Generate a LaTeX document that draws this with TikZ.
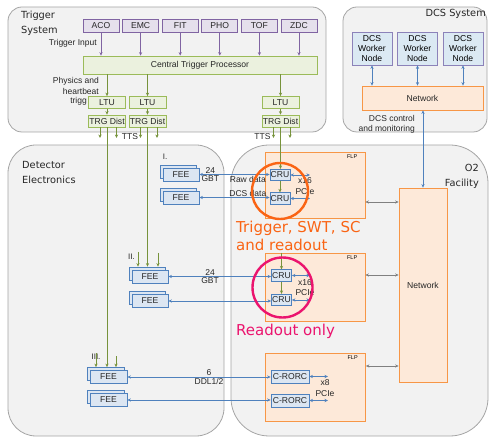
\documentclass[tikz,border=0pt]{standalone}
\usepackage{fontspec}
\setmainfont{Liberation Sans}
\newfontfamily\capfont{DejaVu Sans}
\usetikzlibrary{arrows.meta,positioning,shadows}
\definecolor{trgpurple}{RGB}{128,100,162}
\definecolor{trgpurplefill}{RGB}{229,224,236}
\definecolor{trggreen}{RGB}{155,187,89}
\definecolor{trggreenfill}{RGB}{235,241,222}
\definecolor{trgarrow}{RGB}{119,147,60}
\definecolor{o2blue}{RGB}{79,129,189}
\definecolor{o2bluefill}{RGB}{220,230,242}
\definecolor{o2orange}{RGB}{247,150,70}
\definecolor{o2orangefill}{RGB}{253,233,217}
\definecolor{panelgray}{RGB}{165,165,165}
\definecolor{panelfill}{RGB}{242,242,242}
\definecolor{linkgray}{RGB}{128,128,128}
\definecolor{capred}{RGB}{250,100,20}
\definecolor{cappink}{RGB}{235,20,110}
\definecolor{dcsfill}{RGB}{219,233,243}
\definecolor{dcsdraw}{RGB}{140,130,185}
\tikzset{
  panel/.style={draw=panelgray,fill=panelfill,line width=0.8pt},
  ptitle/.style={font=\capfont\fontsize{9.8}{15}\selectfont,inner sep=0pt,
                 text=black!85},
  captxt/.style={font=\capfont\fontsize{15}{17.5}\selectfont,inner sep=0pt},
  lbl/.style={font=\fontsize{8.5}{10.5}\selectfont,inner sep=1pt,align=center,
              text=black!85},
  box/.style={rectangle,draw=#1,fill=#1fill,line width=0.8pt,inner sep=0pt,
              font=\fontsize{8.6}{10}\selectfont,align=center,text=black!85},
  box/.default=o2blue,
  detbox/.style={box=trgpurple,minimum width=36,minimum height=13},
  ltubox/.style={box=trggreen,minimum width=37,minimum height=12},
  crubox/.style={box=o2blue,minimum width=20,minimum height=11.5},
  rorcbox/.style={box=o2blue,minimum width=38,minimum height=13},
  feebox/.style={box=o2blue,minimum width=36,minimum height=13,
                 copy shadow={shadow xshift=-3pt,shadow yshift=3pt}},
  flpbox/.style={box=o2orange,minimum width=100},
  flplbl/.style={font=\fontsize{5.5}{6}\selectfont,inner sep=0pt},
  dcsnode/.style={rectangle,draw=dcsdraw,fill=dcsfill,line width=0.8pt,
                  inner sep=0pt,minimum width=40,minimum height=33,
                  font=\fontsize{8.6}{10}\selectfont,align=center},
  arr/.style={-{Stealth[length=3.5pt,width=3.2pt]},line width=0.8pt,#1},
  arr/.default=trgarrow,
  darr/.style={{Stealth[length=3.5pt,width=3.2pt]}-{Stealth[length=3.5pt,width=3.2pt]},
               line width=0.8pt,#1},
  darr/.default=o2blue,
  ring/.style={draw=#1,line width=2.4pt},
}
\begin{document}
\begin{tikzpicture}[x=1pt,y=-1pt]
  \useasboundingbox (0,0) rectangle (490,438);
  % panels
  \draw[panel,rounded corners=14pt] (8,7) rectangle (326,132);
  \draw[panel,rounded corners=14pt] (343,7) rectangle (487,132);
  \draw[panel,rounded corners=28pt] (8,145) rectangle (224,436);
  \draw[panel,rounded corners=38pt] (231,145) rectangle (488,436);
  \node[ptitle,anchor=north west,align=left] (trigtitle) at (21,10.5) {Trigger\\System};
  \node[ptitle,anchor=north east] (dcstitle) at (486,9.5) {DCS System};
  \node[ptitle,anchor=north west,align=left] (dettitle) at (22,161) {Detector\\Electronics};
  \node[ptitle,anchor=north east,align=right] (o2title) at (479,164) {O2\\Facility};

  % trigger system
  \node[box=trggreen,minimum width=234,minimum height=18] (ctp) at (200,65)
       {Central Trigger Processor};
  \foreach \d [count=\i from 0] in {ACO,EMC,FIT,PHO,TOF,ZDC}{
    \node[detbox] (\d) at (101+39.6*\i,26) {\d};
    \draw[arr=trgpurple] (\d) -- (\d |- ctp.north);
  }
  \node[lbl,anchor=east] (trginput) at (98,43) {Trigger Input};
  \node[lbl,anchor=north east,align=right] (physlbl) at (100,76.5) {Physics and\\heartbeat};
  \node[lbl,anchor=base east] (trigglbl) at (88,104) {trigg};
  \foreach \n/\x in {1/107,2/147.5,3/280.5}{
    \node[ltubox] (ltu\n) at (\x,102.5) {LTU};
    \node[ltubox] (trg\n) at (\x,121) {TRG Dist};
    \draw[arr] (ctp.south -| ltu\n) -- (ltu\n);
    \draw[arr] (ltu\n) -- (trg\n);
    \coordinate (ttsl\n) at (\x-7,138);
    \coordinate (ttsr\n) at (\x+9.5,138);
    \draw[arr] (trg\n.south -| ttsl\n) -- (ttsl\n);
    \draw[arr] (trg\n.south -| ttsr\n) -- (ttsr\n);
  }
  \node[lbl] (tts1) at (130,137) {TTS};
  \node[lbl] (tts2) at (262.5,137) {TTS};

  % DCS system
  \node[box=o2orange,minimum width=121,minimum height=24] (dcsnet) at (422.5,98) {Network};
  \foreach \n/\x in {1/372,2/417.5,3/463}{
    \node[dcsnode] (wn\n) at (\x,48.5) {DCS\\Worker\\Node};
    \draw[darr] (wn\n) -- (wn\n |- dcsnet.north);
  }
  \node[lbl,anchor=north east,align=right] (dcsctl) at (416,114)
       {DCS control\\and monitoring};

  % O2 facility
  \node[box=o2orange,minimum width=48,minimum height=194] (o2net) at (423,285) {Network};
  \draw[darr] (o2net.north) -- (o2net.north |- dcsnet.south);
  \node[flpbox,minimum height=66] (flp1) at (315,185) {};
  \node[flpbox,minimum height=68] (flp2) at (315,287) {};
  \node[flpbox,minimum height=68] (flp3) at (315.5,387) {};
  \foreach \n in {1,2,3}
    \node[flplbl,anchor=north east] (flplbl\n) at ([xshift=-8pt,yshift=-3pt]flp\n.north east) {FLP};
  \draw[darr=linkgray] ([yshift=-17pt]flp1.east) -- ([yshift=-17pt]flp1.east -| o2net.west);
  \draw[darr=linkgray] ([yshift=12pt]flp2.east) -- ([yshift=12pt]flp2.east -| o2net.west);
  \draw[darr=linkgray] ([yshift=21pt]flp3.east) -- ([yshift=21pt]flp3.east -| o2net.west);

  \node[crubox] (cru1a) at (280,175) {CRU};
  \node[crubox] (cru1b) at (280,198.5) {CRU};
  \node[crubox] (cru2a) at (281.5,275.5) {CRU};
  \node[crubox] (cru2b) at (281.5,300) {CRU};
  \draw[arr] (cru1a) -- (cru1b);
  \draw[arr] (cru2a) -- (cru2b);
  \draw[arr] (cru2a |- flp2.north) -- (cru2a);
  \foreach \c in {cru1a,cru1b,cru2a,cru2b}{
    \coordinate (pcie-\c) at (\c.east -| 310,0);
    \draw[darr] (\c) -- (pcie-\c);
  }
  \node[rorcbox] (rorc1) at (290,376.5) {C-RORC};
  \node[rorcbox] (rorc2) at (290,400.5) {C-RORC};
  \foreach \c in {rorc1,rorc2}{
    \coordinate (pcie-\c) at (\c.east -| 328,0);
    \draw[darr] (\c) -- (pcie-\c);
  }
  \node[lbl] (pcielbl1) at (305,186) {x16\\PCIe};
  \node[lbl] (pcielbl2) at (305,287.5) {x16\\PCIe};
  \node[lbl] (pcielbl3) at (325,388) {x8\\PCIe};

  % detector electronics
  \node[feebox] (fee1a) at (181,174.5) {FEE};
  \node[feebox] (fee1b) at (181,197.5) {FEE};
  \node[feebox] (fee2a) at (150,276.5) {FEE};
  \node[feebox] (fee2b) at (150,301) {FEE};
  \node[feebox,minimum width=37] (fee3a) at (108.5,377) {FEE};
  \node[feebox,minimum width=37] (fee3b) at (108.5,400) {FEE};
  \node[lbl,font=\fontsize{8}{9}\selectfont] (grp1) at (165,157) {I.};
  \node[lbl,font=\fontsize{8}{9}\selectfont] (grp2) at (131.5,257) {II.};
  \node[lbl,font=\fontsize{8}{9}\selectfont] (grp3) at (96,357) {III.};

  \draw[darr] (fee1a) -- (fee1a -| cru1a.west)
    node[lbl,pos=0.155,above] (n24a) {24} node[lbl,pos=0.155,below] (gbta) {GBT}
    node[lbl,pos=0.69,below] (rawlbl) {Raw data};
  \draw[darr] (fee1b) -- (fee1b -| cru1b.west)
    node[lbl,pos=0.69,above] (dcslbl) {DCS data};
  \draw[darr] (fee2a) -- (fee2a -| cru2a.west)
    node[lbl,pos=0.406,above] (n24b) {24} node[lbl,pos=0.406,below] (gbtb) {GBT};
  \draw[darr] (fee2b) -- (fee2b -| cru2b.west);
  \draw[darr] (fee3a) -- (fee3a -| rorc1.west)
    node[lbl,pos=0.57,above] (n6) {6} node[lbl,pos=0.57,below] (ddl) {DDL1/2};
  \draw[darr] (fee3b) -- (fee3b -| rorc2.west);

  % trigger distribution to the front ends
  \draw[arr,shorten >=3pt] (trg1.south) -- (trg1.south |- fee3a.north);
  \draw[arr,shorten >=3pt] (trg2.south) -- (trg2.south |- fee2a.north);
  \draw[arr] (trg3.south) -- (trg3.south |- cru1a.north);
  \foreach \f/\x/\y in {fee2a/138/252,fee2a/158/253,fee3a/96/353,fee3a/116/356}{
    \coordinate (fin\x) at (\x,\y);
    \draw[arr,shorten >=3pt] (fin\x) -- (fin\x |- \f.north);
  }

  % highlights
  \draw[ring=capred] (280,191) circle[radius=28pt];
  \draw[ring=cappink] (282.5,287.5) circle[radius=30pt];
  \node[captxt,text=capred,anchor=north west,align=left] (trgcap) at (236,221)
       {Trigger, SWT, SC\\and readout};
  \node[captxt,text=cappink,anchor=base west] (rocap) at (236,335) {Readout only};
\end{tikzpicture}
\end{document}
